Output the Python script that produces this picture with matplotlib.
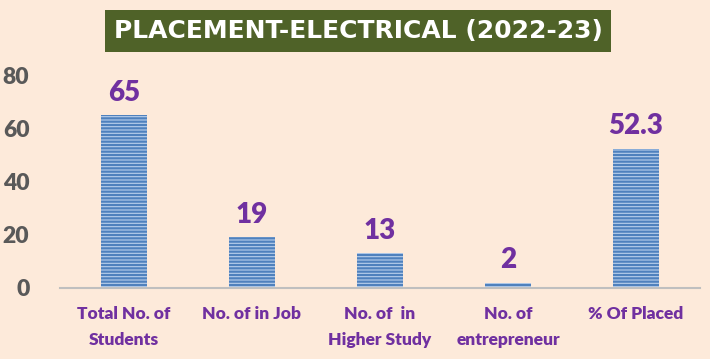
import numpy as np
import matplotlib.pyplot as plt

categories = ["Total No. of\nStudents", "No. of in Job", "No. of  in\nHigher Study",
              "No. of\nentrepreneur", "% Of Placed"]
values = [65, 19, 13, 2, 52.3]
value_labels = ["65", "19", "13", "2", "52.3"]
yticks = [0, 20, 40, 60, 80]

bg = "#FDEADA"
purple = "#7030A0"

plt.rcParams["hatch.linewidth"] = 1.6

fig = plt.figure(figsize=(7.1, 3.59), dpi=100, facecolor=bg)
ax = fig.add_axes([60 / 710, 1 - 288 / 359, 640 / 710, 213 / 359])
ax.set_facecolor(bg)

x = np.arange(len(categories))
ax.bar(x, values, width=0.36, color="#B8CFEC", edgecolor="#4F81BD",
       hatch="-----", linewidth=0)

for xi, v, lab in zip(x, values, value_labels):
    ax.text(xi, v + 3.5, lab, ha="center", va="bottom", color=purple,
            fontsize=20, fontweight="heavy", family="Lato")

ax.set_xlim(-0.5, len(categories) - 0.5)
ax.set_ylim(0, 80)
ax.set_yticks(yticks)
ax.set_yticklabels([str(t) for t in yticks], fontsize=16.5, fontweight="heavy",
                   color="#595959", family="Lato")
ax.set_xticks(x)
ax.set_xticklabels(categories, fontsize=12.5, fontweight="heavy", color=purple,
                   family="Lato", linespacing=1.75, va="top")
ax.tick_params(axis="both", length=0)
ax.tick_params(axis="x", pad=13)
ax.tick_params(axis="y", pad=22)
for s in ["top", "right", "left"]:
    ax.spines[s].set_visible(False)
ax.spines["bottom"].set_color("#BFBFBF")
ax.spines["bottom"].set_linewidth(1.5)

fig.text(358 / 710, 1 - 31 / 359, "PLACEMENT-ELECTRICAL (2022-23)", ha="center",
         va="center", color="white", fontsize=18, fontweight="bold",
         family="DejaVu Sans",
         bbox=dict(boxstyle="square,pad=0.35", facecolor="#4F6228", edgecolor="none"))

fig.savefig("out.png", dpi=100, facecolor=bg)
